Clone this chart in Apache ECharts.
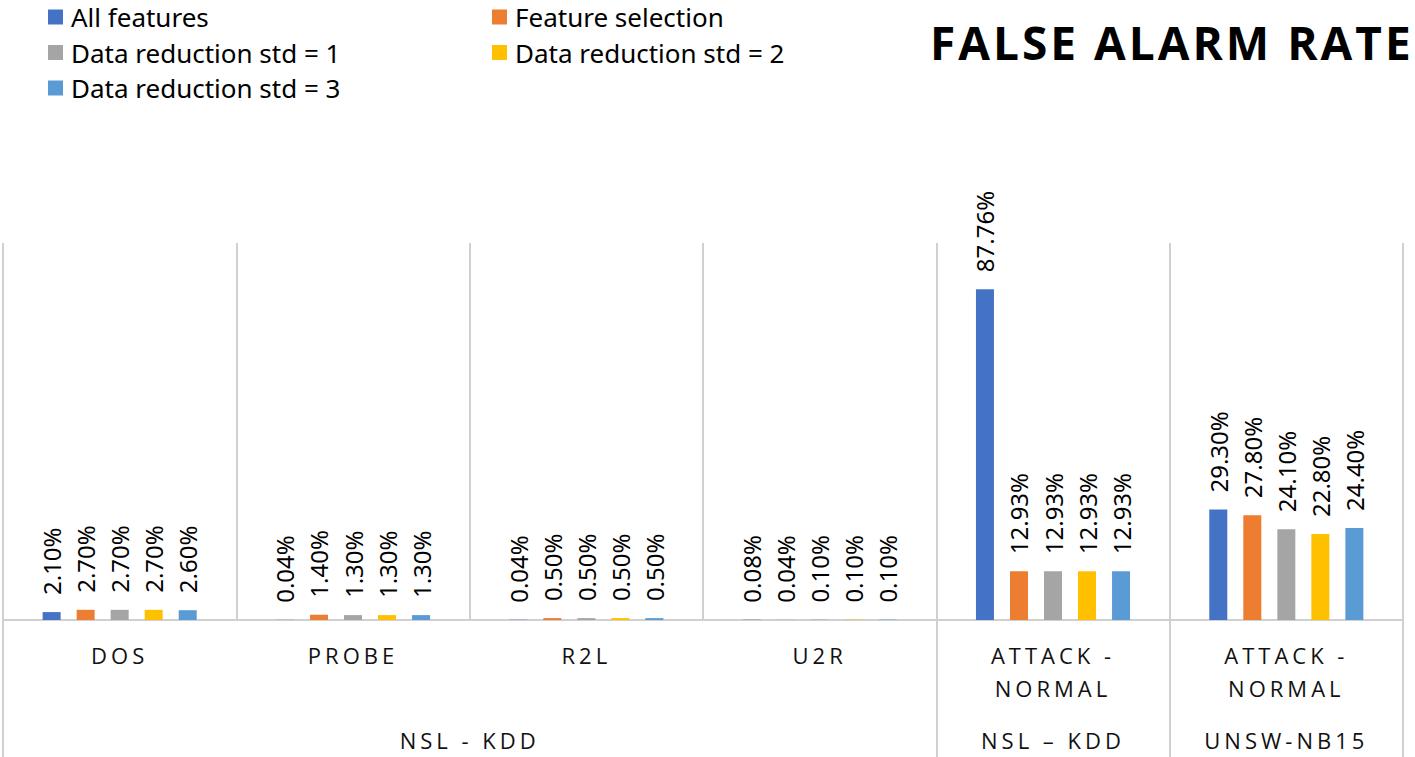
<!DOCTYPE html>
<html>
<head>
<meta charset="utf-8">
<script src="https://cdn.jsdelivr.net/npm/echarts@6/dist/echarts.min.js"></script>
<style>
html,body{margin:0;padding:0;background:#fff;}
#chart{width:1415px;height:757px;}
/* spaced capitals for axis labels and title, like the original */
#chart text[style*="Open Sans"]{letter-spacing:4px;}
#chart text[style*="bold"][style*="Open Sans"]{letter-spacing:3px;}
</style>
</head>
<body>
<div id="chart"></div>
<script>
const categories = ['DOS', 'PROBE', 'R2L', 'U2R', 'ATTACK -\nNORMAL', 'ATTACK -\nNORMAL'];
const groupNames = ['NSL - KDD', 'NSL \u2013 KDD', 'UNSW-NB15'];
const groupSpans = [4, 1, 1];
const seriesNames = ['All features', 'Feature selection', 'Data reduction std = 1', 'Data reduction std = 2', 'Data reduction std = 3'];
const allFeatures = [2.10, 0.04, 0.04, 0.08, 87.76, 29.30];
const featureSelection = [2.70, 1.40, 0.50, 0.04, 12.93, 27.80];
const dataReduction1 = [2.70, 1.30, 0.50, 0.10, 12.93, 24.10];
const dataReduction2 = [2.70, 1.30, 0.50, 0.10, 12.93, 22.80];
const dataReduction3 = [2.60, 1.30, 0.50, 0.10, 12.93, 24.40];
const seriesValues = [allFeatures, featureSelection, dataReduction1, dataReduction2, dataReduction3];
const colors = ['#4472C4', '#ED7D31', '#A5A5A5', '#FFC000', '#5B9BD5'];

// group-level axis built on half-band positions
const halfSlots = new Array(categories.length * 2 + 1).fill('');
const groupBoundaries = [0];
let start = 0;
groupNames.forEach((g, i) => {
  halfSlots[2 * start + groupSpans[i]] = g;
  start += groupSpans[i];
  groupBoundaries.push(start);
});

const AXIS_FONT = 'Open Sans';
const BODY_FONT = 'Noto Sans';
const legendText = { fontFamily: BODY_FONT, fontSize: 26, color: '#000', lineHeight: 25, padding: [0, 0, 0, 3] };

const chart = echarts.init(document.getElementById('chart'), null, { renderer: 'svg' });
chart.setOption({
  animation: false,
  color: colors,
  textStyle: { fontFamily: BODY_FONT },
  title: {
    text: 'FALSE ALARM RATE',
    left: 930,
    top: 19,
    padding: 0,
    textStyle: { fontFamily: AXIS_FONT, fontWeight: 'bold', fontSize: 46, color: '#000' }
  },
  legend: [
    {
      data: [seriesNames[0], seriesNames[2], seriesNames[4]],
      orient: 'vertical', left: 48, top: 4, itemGap: 9.5, padding: 0,
      icon: 'rect', itemWidth: 15, itemHeight: 15, selectedMode: false,
      textStyle: legendText
    },
    {
      data: [seriesNames[1], seriesNames[3]],
      orient: 'vertical', left: 492, top: 4, itemGap: 9.5, padding: 0,
      icon: 'rect', itemWidth: 15, itemHeight: 15, selectedMode: false,
      textStyle: legendText
    }
  ],
  grid: { left: 2, right: 12, top: 243, bottom: 137, containLabel: false },
  xAxis: [
    {
      type: 'category',
      data: categories,
      axisLine: { show: true, lineStyle: { color: '#d0d0d0', width: 2 } },
      axisTick: {
        show: true, length: 137, inside: false,
        interval: (idx) => groupBoundaries.indexOf(idx) !== -1,
        lineStyle: { color: '#d0d0d0', width: 2 }
      },
      splitLine: { show: true, interval: 0, lineStyle: { color: '#d0d0d0', width: 2 } },
      axisLabel: {
        interval: 0, margin: 18, fontFamily: AXIS_FONT, fontSize: 22, lineHeight: 33, color: '#111'
      }
    },
    {
      type: 'category',
      position: 'bottom',
      boundaryGap: false,
      data: halfSlots,
      axisLine: { show: false },
      axisTick: { show: false },
      splitLine: { show: false },
      axisLabel: {
        interval: 0, margin: 109, fontFamily: AXIS_FONT, fontSize: 22, lineHeight: 22, color: '#111'
      }
    }
  ],
  yAxis: {
    type: 'value', min: 0, max: 100,
    show: false,
    splitLine: { show: false }
  },
  series: seriesValues.map((vals, i) => ({
    name: seriesNames[i],
    type: 'bar',
    xAxisIndex: 0,
    data: vals,
    barWidth: 18,
    barGap: '89%',
    itemStyle: { color: colors[i] },
    label: {
      show: true,
      position: 'top',
      rotate: 90,
      align: 'left',
      verticalAlign: 'middle',
      distance: 17,
      fontFamily: BODY_FONT,
      fontSize: 24,
      color: '#000',
      formatter: (p) => p.value.toFixed(2) + '%'
    }
  }))
});
</script>
</body>
</html>
